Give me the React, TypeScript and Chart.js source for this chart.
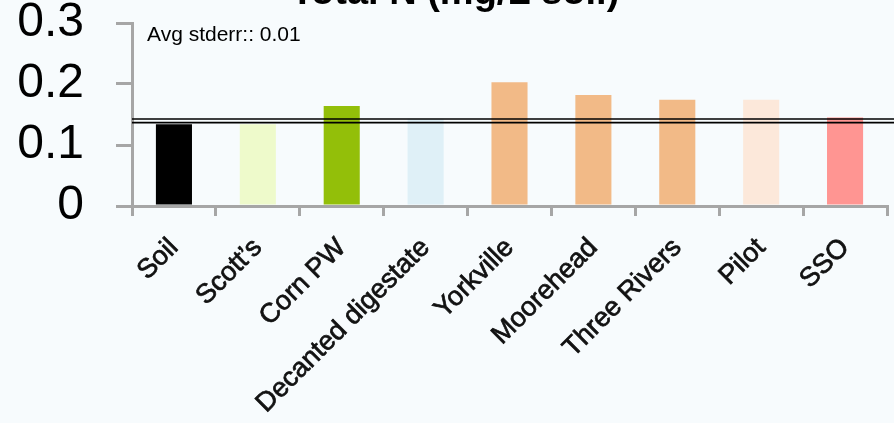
import React, { useEffect, useRef } from "react";
import { Chart, registerables } from "chart.js";

Chart.register(...registerables);

const categories = ["Soil", "Scott\u2019s", "Corn PW", "Decanted digestate", "Yorkville", "Moorehead", "Three Rivers", "Pilot", "SSO"];
const totalN = [0.134, 0.134, 0.164, 0.143, 0.203, 0.182, 0.174, 0.174, 0.145];
const barColors = ["#000000", "#eefacb", "#93bf09", "#dff0f7", "#f2ba87", "#f2ba87", "#f2ba87", "#fce8da", "#ff9592"];
const yTicks = [0, 0.1, 0.2, 0.3];
const refLines = [0.1427, 0.1367];
const titleText = "Total N (mg/L soil)";
const noteText = "Avg stderr:: 0.01";
const BG = "#f7fbfd";
const AXIS = "#a6a6a6";

const overlay = {
  id: "overlay",
  beforeDraw(chart: any) {
    const ctx = chart.ctx;
    ctx.save();
    ctx.fillStyle = BG;
    ctx.fillRect(0, 0, chart.width, chart.height);
    ctx.restore();
  },
  afterDatasetsDraw(chart: any) {
    const ctx = chart.ctx;
    const y = chart.scales.y;
    const left = chart.chartArea.left;
    ctx.save();
    ctx.strokeStyle = "#000000";
    ctx.lineWidth = 1.6;
    refLines.forEach((v) => {
      const py = y.getPixelForValue(v);
      ctx.beginPath();
      ctx.moveTo(left, py);
      ctx.lineTo(chart.width, py);
      ctx.stroke();
    });
    ctx.fillStyle = "#000000";
    ctx.font = "bold 38px 'Liberation Sans', Arial, sans-serif";
    ctx.textAlign = "center";
    ctx.textBaseline = "alphabetic";
    ctx.fillText(titleText, 455, 4);
    ctx.font = "21px 'Liberation Sans', Arial, sans-serif";
    ctx.textAlign = "left";
    ctx.fillText(noteText, 147, 41);
    ctx.restore();
  },
};

export default function App() {
  const ref = useRef<HTMLCanvasElement>(null);
  useEffect(() => {
    if (!ref.current) return;
    const chart = new Chart(ref.current, {
      type: "bar",
      data: {
        labels: categories,
        datasets: [
          {
            data: totalN,
            backgroundColor: barColors,
            borderWidth: 0,
            categoryPercentage: 1,
            barPercentage: 0.43,
          },
        ],
      },
      options: {
        responsive: false,
        animation: false,
        devicePixelRatio: 1,
        layout: { padding: { top: 23, right: 7, left: 0, bottom: 0 } },
        plugins: { legend: { display: false }, tooltip: { enabled: false }, title: { display: false } },
        scales: {
          x: {
            afterFit: (s: any) => {
              s.height = 217;
              s.paddingLeft = 0;
              s.paddingRight = 0;
            },
            grid: {
              display: true,
              drawOnChartArea: false,
              drawTicks: true,
              tickLength: 10,
              color: AXIS,
              lineWidth: 3,
              offset: true,
            },
            border: { display: true, color: AXIS, width: 3 },
            ticks: {
              autoSkip: false,
              maxRotation: 45,
              minRotation: 45,
              padding: 16,
              color: "#111111",
              textStrokeColor: "#111111",
              textStrokeWidth: 0.7,
              font: { family: "'Liberation Sans', Arial, sans-serif", size: 27 },
            },
          },
          y: {
            min: 0,
            max: 0.3,
            afterFit: (s: any) => {
              s.width = 132;
              s.paddingTop = 0;
              s.paddingBottom = 0;
            },
            afterBuildTicks: (s: any) => {
              s.ticks = yTicks.map((v) => ({ value: v }));
            },
            grid: {
              display: true,
              drawOnChartArea: false,
              drawTicks: true,
              tickLength: 16,
              color: AXIS,
              lineWidth: 3,
            },
            border: { display: true, color: AXIS, width: 3 },
            ticks: {
              padding: 32,
              color: "#000000",
              font: { family: "'Liberation Sans', Arial, sans-serif", size: 48, lineHeight: 1 },
              callback: (v: any) => String(Math.round(Number(v) * 10) / 10),
            },
          },
        },
      },
      plugins: [overlay],
    });
    return () => chart.destroy();
  }, []);
  return (
    <div style={{ position: "fixed", left: 0, top: 0, width: 894, height: 423, background: BG }}>
      <canvas ref={ref} width={894} height={423} style={{ display: "block" }} />
    </div>
  );
}
